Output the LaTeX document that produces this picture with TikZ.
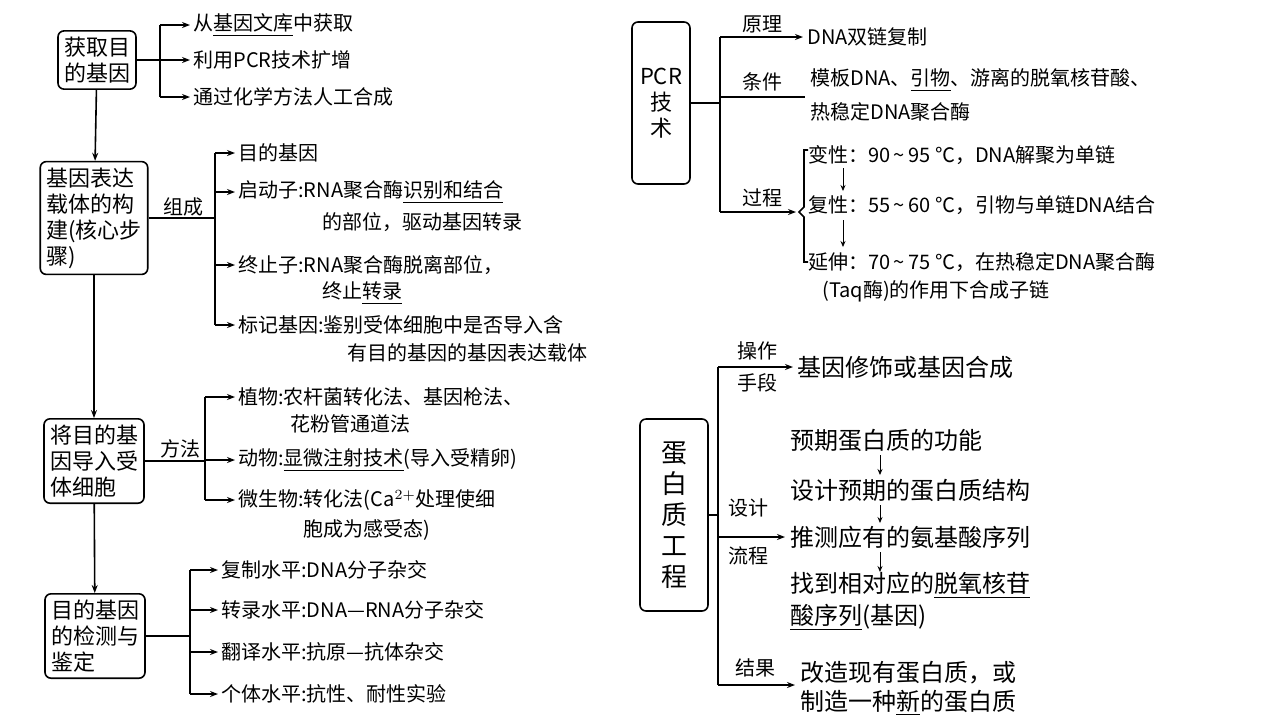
\documentclass[tikz,border=0pt]{standalone}
\usepackage{fontspec}
\setmainfont{Noto Sans CJK SC}
\usetikzlibrary{arrows.meta}
\tikzset{
  box/.style={draw,thick,rounded corners=3pt,align=left,inner sep=3pt,font=\fontsize{11}{13}\selectfont},
  txt/.style={anchor=west,inner sep=0pt,font=\fontsize{10}{12}\selectfont},
  big/.style={anchor=west,inner sep=0pt,font=\fontsize{12}{14}\selectfont},
  lab/.style={inner sep=0pt,font=\fontsize{10}{12}\selectfont},
  arr/.style={-{Stealth[length=4pt,width=3pt]},thick},
  ln/.style={thick}
}
\newcommand{\tl}{\,\textasciitilde\,}
\begin{document}
\begin{tikzpicture}[x=0.5pt,y=-0.5pt]
\useasboundingbox (0,0) rectangle (1280,720);
	%left boxes
	\node[box] (get) at (97,60) {获取目\\的基因};
	\node[box] (vec) at (94,218) {基因表达\\载体的构\\建(核心步\\骤)};
	\node[box] (imp) at (94,461) {将目的基\\因导入受\\体细胞};
	\node[box] (det) at (95,636) {目的基因\\的检测与\\鉴定};
	\draw[arr] (get) -- (vec);
	\draw[arr] (vec) -- (imp);
	\draw[arr] (imp) -- (det);
	%get
	\coordinate (g0) at (160,60);
	\draw[ln] (get.east) -- (g0);
	\draw[ln] (160,25) -- (160,97);
	\foreach \y/\t in {25/从\underline{基因文库}中获取,60/利用PCR技术扩增,97/通过化学方法人工合成}{
		\coordinate (c) at (190,\y);
		\draw[arr] (160,\y) -- (c);
		\node[txt] at (193,\y) {\t};
	}
	%vector
	\coordinate (v0) at (215,218);
	\draw[ln] (vec.east) -- (v0);
	\node[lab] at (183,207) {组成};
	\draw[ln] (215,153) -- (215,325);
	\foreach \y/\t in {153/目的基因,192/启动子:RNA聚合酶\underline{识别和结合},265/终止子:RNA聚合酶脱离部位，,325/标记基因:鉴别受体细胞中是否导入含}{
		\coordinate (c) at (235,\y);
		\draw[arr] (215,\y) -- (c);
		\node[txt] at (238,\y) {\t};
	}
	\node[txt] at (322,222) {的部位，驱动基因转录};
	\node[txt] at (322,293) {终止\underline{转录}};
	\node[txt] at (347,353) {有目的基因的基因表达载体};
	%import
	\coordinate (i0) at (205,461);
	\draw[ln] (imp.east) -- (i0);
	\node[lab] at (180,449) {方法};
	\draw[ln] (205,397) -- (205,500);
	\foreach \y/\t in {397/植物:农杆菌转化法、基因枪法、,460/动物:\underline{显微注射技术}(导入受精卵),500/微生物:转化法(Ca$^{2+}$处理使细}{
		\coordinate (c) at (235,\y);
		\draw[arr] (205,\y) -- (c);
		\node[txt] at (238,\y) {\t};
	}
	\node[txt] at (290,424) {花粉管通道法};
	\node[txt] at (303,530) {胞成为感受态)};
	%detect
	\coordinate (d0) at (190,636);
	\draw[ln] (det.east) -- (d0);
	\draw[ln] (190,570) -- (190,694);
	\foreach \y/\t in {570/复制水平:DNA分子杂交,610/转录水平:DNA—RNA分子杂交,652/翻译水平:抗原—抗体杂交,694/个体水平:抗性、耐性实验}{
		\coordinate (c) at (218,\y);
		\draw[arr] (190,\y) -- (c);
		\node[txt] at (221,\y) {\t};
	}
	%PCR
	\node[box,minimum width=29pt,minimum height=81pt,align=center] (pcr) at (661,103) {PCR\\技\\术};
	\draw[ln] (pcr.east) -- (720,103);
	\draw[ln] (720,37) -- (720,212);
	\draw[arr] (720,37) -- (803,37);
	\node[lab] at (762,24) {原理};
	\node[txt] at (807,37) {DNA双链复制};
	\draw[ln] (720,97) -- (805,97);
	\node[lab] at (762,82) {条件};
	\node[txt] at (810,80) {模板DNA、\underline{引物}、游离的脱氧核苷酸、};
	\node[txt] at (810,112) {热稳定DNA聚合酶};
	\coordinate (br) at (796,212);
	\draw[arr] (720,212) -- (br);
	\node[lab] at (762,198) {过程};
	\draw[thick] (808,150) -- (804,150) -- (804,207) -- (799,212) -- (804,217) -- (804,262) -- (808,262);
	\node[txt] (s1) at (808,155) {变性：90\tl 95 ℃，DNA解聚为单链};
	\node[txt] (s2) at (808,205) {复性：55\tl 60 ℃，引物与单链DNA结合};
	\node[txt] (s3) at (808,262) {延伸：70\tl 75 ℃，在热稳定DNA聚合酶};
	\node[txt] at (822,291) {(\textit{Taq}酶)的作用下合成子链};
	\draw[-{Stealth[length=3pt,width=2.5pt]}] (843,168) -- (843,191);
	\draw[-{Stealth[length=3pt,width=2.5pt]}] (843,220) -- (843,247);
	%protein
	\node[box,minimum width=34pt,minimum height=96pt,align=center,font=\fontsize{13}{15.5}\selectfont] (pro) at (674,515) {蛋\\白\\质\\工\\程};
	\draw[ln] (pro.east) -- (718,515);
	\draw[ln] (718,367) -- (718,685);
	\draw[arr] (718,367) -- (793,367);
	\node[lab,align=center] at (757,367) {操作\\[4pt]手段};
	\node[big] at (797,367) {基因修饰或基因合成};
	\draw[arr] (718,537) -- (785,537);
	\node[lab] at (748,508) {设计};
	\node[lab] at (748,556) {流程};
	\node[big] at (790,440) {预期蛋白质的功能};
	\node[big] at (790,490) {设计预期的蛋白质结构};
	\node[big] at (790,537) {推测应有的氨基酸序列};
	\node[big] at (790,585) {找到相对应的\underline{脱氧核苷}};
	\node[big] at (790,617) {\underline{酸序列}(基因)};
	\foreach \a/\b in {455/475,505/523,552/572}
		\draw[-{Stealth[length=3pt,width=2.5pt]}] (880,\a) -- (880,\b);
	\draw[arr] (718,685) -- (795,685);
	\node[lab] at (755,668) {结果};
	\node[big] at (800,673) {改造现有蛋白质，或};
	\node[big] at (800,703) {制造一种\underline{新}的蛋白质};
\end{tikzpicture}
\end{document}
